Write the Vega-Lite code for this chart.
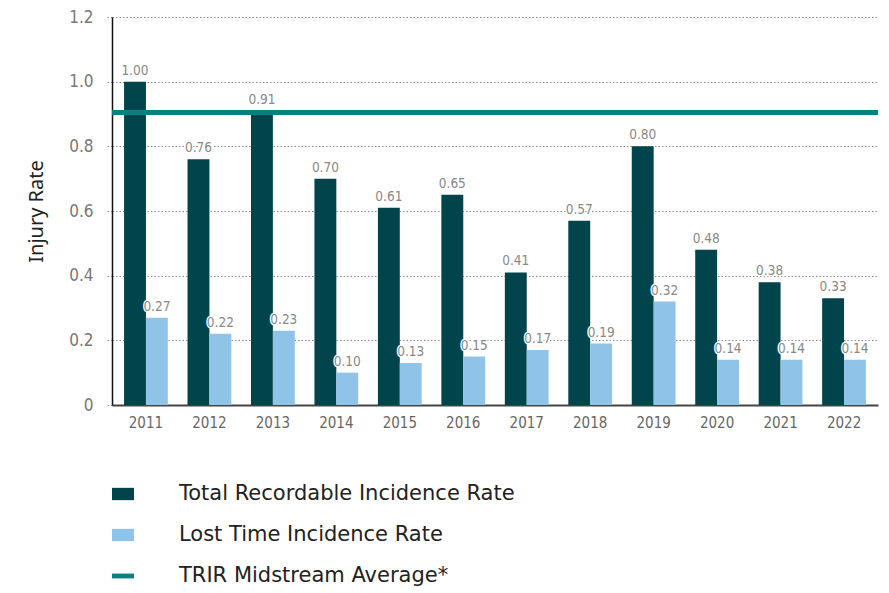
{
  "$schema": "https://vega.github.io/schema/vega-lite/v6.json",
  "width": 766,
  "height": 388,
  "autosize": {"type": "none"},
  "padding": {"left": 112, "top": 17, "right": 11, "bottom": 188},
  "background": "white",
  "datasets": {
    "bars": [
      {"year": "2011", "series": "Total Recordable Incidence Rate", "value": 1.00},
      {"year": "2012", "series": "Total Recordable Incidence Rate", "value": 0.76},
      {"year": "2013", "series": "Total Recordable Incidence Rate", "value": 0.91},
      {"year": "2014", "series": "Total Recordable Incidence Rate", "value": 0.70},
      {"year": "2015", "series": "Total Recordable Incidence Rate", "value": 0.61},
      {"year": "2016", "series": "Total Recordable Incidence Rate", "value": 0.65},
      {"year": "2017", "series": "Total Recordable Incidence Rate", "value": 0.41},
      {"year": "2018", "series": "Total Recordable Incidence Rate", "value": 0.57},
      {"year": "2019", "series": "Total Recordable Incidence Rate", "value": 0.80},
      {"year": "2020", "series": "Total Recordable Incidence Rate", "value": 0.48},
      {"year": "2021", "series": "Total Recordable Incidence Rate", "value": 0.38},
      {"year": "2022", "series": "Total Recordable Incidence Rate", "value": 0.33},
      {"year": "2011", "series": "Lost Time Incidence Rate", "value": 0.27},
      {"year": "2012", "series": "Lost Time Incidence Rate", "value": 0.22},
      {"year": "2013", "series": "Lost Time Incidence Rate", "value": 0.23},
      {"year": "2014", "series": "Lost Time Incidence Rate", "value": 0.10},
      {"year": "2015", "series": "Lost Time Incidence Rate", "value": 0.13},
      {"year": "2016", "series": "Lost Time Incidence Rate", "value": 0.15},
      {"year": "2017", "series": "Lost Time Incidence Rate", "value": 0.17},
      {"year": "2018", "series": "Lost Time Incidence Rate", "value": 0.19},
      {"year": "2019", "series": "Lost Time Incidence Rate", "value": 0.32},
      {"year": "2020", "series": "Lost Time Incidence Rate", "value": 0.14},
      {"year": "2021", "series": "Lost Time Incidence Rate", "value": 0.14},
      {"year": "2022", "series": "Lost Time Incidence Rate", "value": 0.14}
    ],
    "avg": [
      {"series": "TRIR Midstream Average*", "value": 0.905}
    ]
  },
  "config": {
    "view": {"stroke": null},
    "font": "DejaVu Sans Condensed, Roboto, sans-serif"
  },
  "layer": [
    {
      "data": {"name": "bars"},
      "mark": {"type": "bar"},
      "encoding": {
        "x": {
          "field": "year", "type": "nominal",
          "scale": {"paddingInner": 0.31, "paddingOuter": 0.19},
          "axis": {
            "title": null, "labelAngle": 0, "ticks": false,
            "labelFont": "DejaVu Sans Condensed, Roboto, sans-serif", "labelFontSize": 15, "labelColor": "#666666",
            "labelPadding": 10, "domainColor": "#444444", "domainWidth": 2
          }
        },
        "xOffset": {"field": "series", "type": "nominal", "sort": ["Total Recordable Incidence Rate", "Lost Time Incidence Rate"], "scale": {"paddingInner": 0, "paddingOuter": 0}},
        "y": {
          "field": "value", "type": "quantitative",
          "scale": {"domain": [0, 1.2], "nice": false},
          "axis": {
            "title": "Injury Rate", "values": [0, 0.2, 0.4, 0.6, 0.8, 1.0, 1.2],
            "labelExpr": "datum.value === 0 ? '0' : format(datum.value, '.1f')",
            "labelFont": "DejaVu Sans Condensed, Roboto, sans-serif", "labelFontSize": 17, "labelColor": "#777777",
            "labelPadding": 14,
            "grid": true, "gridDash": [1.5, 2], "gridColor": "#8a8a8a", "gridWidth": 1, "gridOpacity": 1,
            "ticks": true, "tickDash": [1.5, 2], "tickColor": "#8a8a8a", "tickSize": 5,
            "domain": true, "domainColor": "#111111", "domainWidth": 1.5,
            "titleFont": "Noto Sans", "titleFontSize": 20, "titleFontWeight": "normal", "titleColor": "#222222",
            "titlePadding": 22
          }
        },
        "color": {
          "field": "series", "type": "nominal",
          "scale": {
            "domain": ["Total Recordable Incidence Rate", "Lost Time Incidence Rate", "TRIR Midstream Average*"],
            "range": ["#01444c", "#8fc4e8", "#0a7f80"]
          },
          "legend": {
            "title": null, "orient": "none", "legendX": 0, "legendY": 466,
            "direction": "vertical",
            "labelFont": "DejaVu Sans", "labelFontSize": 21, "labelColor": "#222222",
            "labelOffset": 45, "rowPadding": 20, "symbolSize": 484, "symbolStrokeWidth": 0,
            "labelLimit": 600,
            "encode": {
              "symbols": {
                "update": {
                  "shape": {"signal": "datum.value === 'TRIR Midstream Average*' ? 'M-1,-0.22H1V0.22H-1Z' : 'M-1,-0.56H1V0.56H-1Z'"},
                  "strokeWidth": {"value": 0}
                }
              }
            }
          }
        }
      }
    },
    {
      "data": {"name": "bars"},
      "mark": {"type": "text", "baseline": "bottom", "dy": -4, "font": "DejaVu Sans Condensed, Roboto, sans-serif", "fontSize": 13.5, "stroke": "white", "strokeWidth": 2.5, "color": "white"},
      "encoding": {
        "x": {"field": "year", "type": "nominal"},
        "xOffset": {"field": "series", "type": "nominal", "sort": ["Total Recordable Incidence Rate", "Lost Time Incidence Rate"]},
        "y": {"field": "value", "type": "quantitative"},
        "text": {"field": "value", "type": "quantitative", "format": ".2f"}
      }
    },
    {
      "data": {"name": "bars"},
      "mark": {"type": "text", "baseline": "bottom", "dy": -4, "font": "DejaVu Sans Condensed, Roboto, sans-serif", "fontSize": 13.5, "color": "#888888"},
      "encoding": {
        "x": {"field": "year", "type": "nominal"},
        "xOffset": {"field": "series", "type": "nominal", "sort": ["Total Recordable Incidence Rate", "Lost Time Incidence Rate"]},
        "y": {"field": "value", "type": "quantitative"},
        "text": {"field": "value", "type": "quantitative", "format": ".2f"}
      }
    },
    {
      "data": {"name": "avg"},
      "mark": {"type": "rule", "strokeWidth": 5},
      "encoding": {
        "y": {"field": "value", "type": "quantitative"},
        "color": {"field": "series", "type": "nominal"}
      }
    }
  ]
}
